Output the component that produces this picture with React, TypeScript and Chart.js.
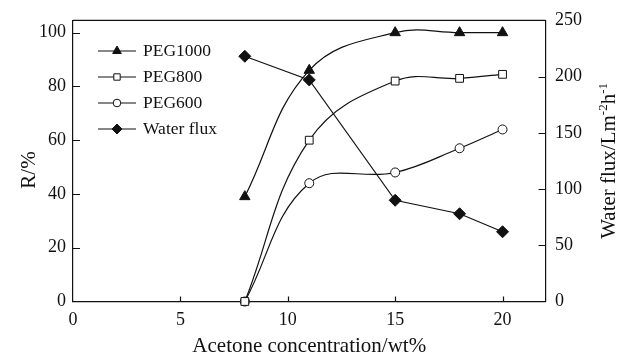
import React, { useEffect, useRef } from "react";
import { Chart, registerables } from "chart.js";
import { drawPoint } from "chart.js/helpers";

Chart.register(...registerables);

const concentrations = [8, 11, 15, 18, 20];
const peg1000 = [39, 86, 100, 100, 100];
const peg800 = [0, 60, 82, 83, 84.5];
const peg600 = [0, 44, 48, 57, 64];
const waterFlux = [218, 197, 90, 78, 62];

const xTicks = [0, 5, 10, 15, 20];
const yTicks = [0, 20, 40, 60, 80, 100];
const y1Ticks = [0, 50, 100, 150, 200, 250];

const xTitle = "Acetone concentration/wt%";
const yTitle = "R/%";
const legendNames = ["PEG1000", "PEG800", "PEG600", "Water flux"];

const FONT = "'Liberation Serif', 'Times New Roman', serif";
const INK = "#111";

const decorations = {
  id: "decorations",
  afterDraw(chart: any) {
    const ctx = chart.ctx;
    const { left, right, top, bottom } = chart.chartArea;
    const sx = chart.scales.x;
    const sy = chart.scales.y;
    const sy1 = chart.scales.y1;
    ctx.save();
    ctx.strokeStyle = INK;
    ctx.lineWidth = 1.2;
    // top border
    ctx.beginPath();
    ctx.moveTo(left, top);
    ctx.lineTo(right, top);
    ctx.stroke();
    // inward ticks
    ctx.beginPath();
    xTicks.forEach((v) => {
      if (v === 0) return;
      const px = Math.round(sx.getPixelForValue(v)) + 0.5;
      ctx.moveTo(px, bottom);
      ctx.lineTo(px, bottom - 5);
    });
    yTicks.forEach((v) => {
      if (v === 0) return;
      const py = Math.round(sy.getPixelForValue(v)) + 0.5;
      ctx.moveTo(left, py);
      ctx.lineTo(left + 7, py);
    });
    y1Ticks.forEach((v) => {
      if (v === 0 || v === 250) return;
      const py = Math.round(sy1.getPixelForValue(v)) + 0.5;
      ctx.moveTo(right, py);
      ctx.lineTo(right - 7, py);
    });
    ctx.stroke();

    // titles
    ctx.fillStyle = INK;
    ctx.font = `21px ${FONT}`;
    ctx.textAlign = "center";
    ctx.textBaseline = "alphabetic";
    ctx.fillText(xTitle, (left + right) / 2, 351.5);

    ctx.save();
    ctx.translate(35, 170);
    ctx.rotate(-Math.PI / 2);
    ctx.fillText(yTitle, 0, 0);
    ctx.restore();

    // right title with superscripts
    const parts: [string, boolean][] = [
      ["Water flux/Lm", false],
      ["-2", true],
      ["h", false],
      ["-1", true],
    ];
    const normalFont = `21px ${FONT}`;
    const supFont = `13px ${FONT}`;
    let total = 0;
    parts.forEach(([t, sup]) => {
      ctx.font = sup ? supFont : normalFont;
      total += ctx.measureText(t).width;
    });
    ctx.save();
    ctx.translate(615, (top + bottom) / 2);
    ctx.rotate(-Math.PI / 2);
    ctx.textAlign = "left";
    let cx = -total / 2;
    parts.forEach(([t, sup]) => {
      ctx.font = sup ? supFont : normalFont;
      ctx.fillText(t, cx, sup ? -8 : 0);
      cx += ctx.measureText(t).width;
    });
    ctx.restore();

    // legend
    const rows = [51, 77, 103, 129];
    const legendRadius = [5, 4.5, 3.8, 5];
    chart.data.datasets.forEach((ds: any, i: number) => {
      const y = rows[i];
      ctx.strokeStyle = INK;
      ctx.lineWidth = 1.2;
      ctx.beginPath();
      ctx.moveTo(98, y);
      ctx.lineTo(136, y);
      ctx.stroke();
      ctx.fillStyle = ds.pointBackgroundColor;
      ctx.strokeStyle = INK;
      ctx.lineWidth = 1;
      drawPoint(
        ctx,
        { pointStyle: ds.pointStyle, radius: legendRadius[i], rotation: 0, borderWidth: 1 } as any,
        117,
        y
      );
      ctx.fillStyle = INK;
      ctx.font = `17.5px ${FONT}`;
      ctx.textAlign = "left";
      ctx.textBaseline = "middle";
      ctx.fillText(legendNames[i], 143, y + 0.5);
    });
    ctx.restore();
  },
};

export default function App() {
  const ref = useRef<HTMLCanvasElement | null>(null);

  useEffect(() => {
    if (!ref.current) return;
    const mk = (arr: number[]) => arr.map((v, i) => ({ x: concentrations[i], y: v }));
    const chart = new Chart(ref.current, {
      type: "line",
      data: {
        datasets: [
          {
            label: legendNames[0],
            data: mk(peg1000),
            yAxisID: "y",
            borderColor: INK,
            borderWidth: 1.2,
            tension: 0.4,
            pointStyle: "triangle",
            pointRadius: 6,
            pointBackgroundColor: INK,
            pointBorderColor: INK,
            pointBorderWidth: 1,
            clip: false,
          },
          {
            label: legendNames[1],
            data: mk(peg800),
            yAxisID: "y",
            borderColor: INK,
            borderWidth: 1.2,
            tension: 0.4,
            pointStyle: "rect",
            pointRadius: 5.5,
            pointBackgroundColor: "#fff",
            pointBorderColor: INK,
            pointBorderWidth: 1,
            clip: false,
          },
          {
            label: legendNames[2],
            data: mk(peg600),
            yAxisID: "y",
            borderColor: INK,
            borderWidth: 1.2,
            tension: 0.4,
            pointStyle: "circle",
            pointRadius: 4.5,
            pointBackgroundColor: "#fff",
            pointBorderColor: INK,
            pointBorderWidth: 1,
            clip: false,
          },
          {
            label: legendNames[3],
            data: mk(waterFlux),
            yAxisID: "y1",
            borderColor: INK,
            borderWidth: 1.2,
            tension: 0,
            pointStyle: "rectRot",
            pointRadius: 6,
            pointBackgroundColor: INK,
            pointBorderColor: INK,
            pointBorderWidth: 1,
            clip: false,
          },
        ],
      },
      options: {
        responsive: false,
        animation: false,
        devicePixelRatio: 1,
        layout: { padding: { top: 19.5, left: 0, right: 0, bottom: 0 } },
        plugins: { legend: { display: false }, tooltip: { enabled: false } },
        scales: {
          x: {
            type: "linear",
            min: 0,
            max: 22,
            afterBuildTicks: (s: any) => {
              s.ticks = xTicks.map((v) => ({ value: v }));
            },
            afterFit: (s: any) => {
              s.height = 53.5;
            },
            grid: { display: true, drawOnChartArea: false, drawTicks: false },
            border: { display: true, color: INK, width: 1.2 },
            ticks: { color: INK, font: { family: FONT, size: 18 }, padding: 8, maxRotation: 0 },
          },
          y: {
            type: "linear",
            position: "left",
            min: 0,
            max: 104.6,
            afterBuildTicks: (s: any) => {
              s.ticks = yTicks.map((v) => ({ value: v }));
            },
            afterFit: (s: any) => {
              s.width = 73;
            },
            grid: { display: true, drawOnChartArea: false, drawTicks: false },
            border: { display: true, color: INK, width: 1.2 },
            ticks: { color: INK, font: { family: FONT, size: 18 }, padding: 7 },
          },
          y1: {
            type: "linear",
            position: "right",
            min: 0,
            max: 250,
            afterBuildTicks: (s: any) => {
              s.ticks = y1Ticks.map((v) => ({ value: v }));
            },
            afterFit: (s: any) => {
              s.width = 71.5;
            },
            grid: { display: true, drawOnChartArea: false, drawTicks: false },
            border: { display: true, color: INK, width: 1.2 },
            ticks: { color: INK, font: { family: FONT, size: 18 }, padding: 9.5 },
          },
        },
      } as any,
      plugins: [decorations],
    });
    return () => chart.destroy();
  }, []);

  return (
    <div style={{ position: "fixed", left: 0, top: 0, width: 617, height: 355, background: "#fff" }}>
      <canvas ref={ref} width={617} height={355} />
    </div>
  );
}
